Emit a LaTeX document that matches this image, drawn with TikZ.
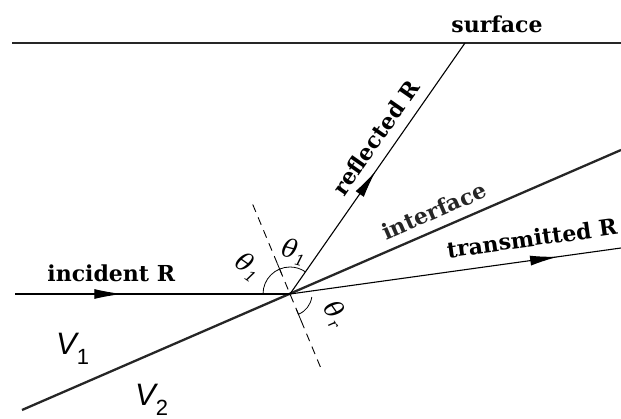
\documentclass[tikz,border=0pt]{standalone}
\usepackage{fontspec}
\setmainfont{DejaVu Serif}
\newfontfamily\velfont{Liberation Sans Italic}
\newfontfamily\numfont{Liberation Sans}
\usetikzlibrary{calc,arrows.meta,decorations.markings}

\newcommand{\angsym}[1]{\itshape θ\raisebox{-5pt}{\fontsize{15}{15}\selectfont #1}}

\begin{document}
\begin{tikzpicture}[
  x=1pt, y=1pt,
  lbl/.style   = {font=\fontsize{22}{22}\selectfont\bfseries, inner sep=2pt},
  ang/.style   = {font=\fontsize{25}{25}\selectfont, inner sep=0pt},
  vel/.style   = {font=\fontsize{31}{31}\velfont, inner sep=0pt,
                  anchor=base west},
  bound/.style = {line width=2.3pt, black!85},
  ray/.style   = {line width=1.1pt},
  nrm/.style   = {line width=0.9pt, dash pattern=on 8pt off 6pt},
  arcl/.style  = {line width=0.8pt},
  midarrow/.style = {postaction={decorate},
                  decoration={markings, mark=at position #1 with
                  {\arrow{Latex[length=28pt,width=10pt]}}}}
]
\useasboundingbox (0,0) rectangle (621,-419);

% ------------------------------------------------------------ i punti --
\coordinate (O)    at (290,-294);
\coordinate (sL)   at (12,-43);
\coordinate (sR)   at (621,-43);
\coordinate (iL)   at (22,-410);
\coordinate (iR)   at (621,-150);
\coordinate (inc)  at (15,-294);
\coordinate (refl) at (465,-43);
\coordinate (tra)  at (621,-248);
\coordinate (nT)   at ($(O)+(112.6:97)$);
\coordinate (nB)   at ($(O)+(-67.4:80)$);

% ------------------------------------------------ superficie e interfaccia --
\draw[bound] (sL) -- (sR);
\node[lbl, anchor=base] (lsurf) at (497,-33) {surface};
\draw[bound] (iL) -- (iR) node[lbl, pos=0.70, sloped, above=7pt] (lint) {interface};

% ---------------------------------------------------------------- i raggi --
\draw[ray, midarrow=0.39] (inc) -- (O)
  node[lbl, pos=0.35, above=10pt] (linc) {incident R};
\draw[ray, midarrow=0.49] (O) -- (refl)
  node[lbl, pos=0.58, sloped, above=8pt] (lref) {reflected R};
\draw[ray, midarrow=0.81] (O) -- (tra)
  node[lbl, pos=0.74, sloped, above=11pt] (ltra) {transmitted R};

% la normale, tratteggiata
\draw[nrm] (nT) -- (nB);

% ---------------------------------------------------------------- gli angoli --
\draw[arcl] ($(O)+(180:27)$) arc[start angle=180, end angle=55.1, radius=27];
\draw[arcl] ($(O)+(112.6:21)$) -- ($(O)+(112.6:33)$);
\draw[arcl] ($(O)+(-7.9:22)$) arc[start angle=-7.9, end angle=-67.4, radius=22];
\draw[arcl] ($(O)+(-67.4:16)$) -- ($(O)+(-67.4:30)$);

\node[ang, rotate=-35] (ti) at (248,-267) {\angsym{1}};
\node[ang, rotate=-15] (tr) at (294,-252) {\angsym{1}};
\node[ang, rotate=-55] (tt) at (335,-314) {\angsym{r}};

% ------------------------------------------------------------- i due mezzi --
\node[vel] (v1) at (56,-355) {V\raisebox{-10pt}{\fontsize{22}{22}\numfont 1}};
\node[vel] (v2) at (135,-405) {V\raisebox{-10pt}{\fontsize{22}{22}\numfont 2}};

\end{tikzpicture}
\end{document}
